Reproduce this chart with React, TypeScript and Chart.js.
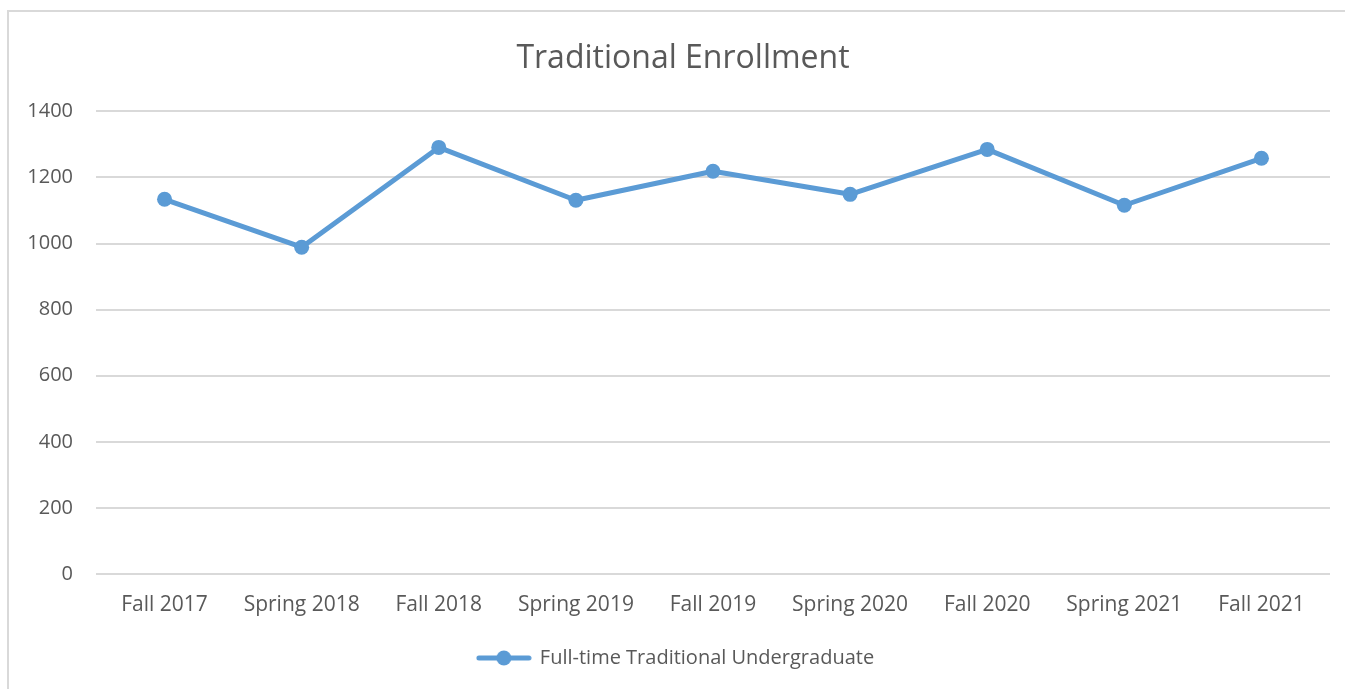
import React, { useEffect, useRef } from "react";
import { Chart, registerables } from "chart.js";

Chart.register(...registerables);

const categories = [
  "Fall 2017",
  "Spring 2018",
  "Fall 2018",
  "Spring 2019",
  "Fall 2019",
  "Spring 2020",
  "Fall 2020",
  "Spring 2021",
  "Fall 2021",
];
const seriesName = "Full-time Traditional Undergraduate";
const enrollment = [1134, 989, 1291, 1131, 1219, 1149, 1285, 1116, 1258];
const yTicks = [0, 200, 400, 600, 800, 1000, 1200, 1400];

const BLUE = "#5B9BD5";
const TEXT = "#595959";
const GRID = "#D9D9D9";
const FONT = "'Open Sans', 'Noto Sans', sans-serif";

function makeLegendMarker(): HTMLCanvasElement {
  const c = document.createElement("canvas");
  c.width = 56;
  c.height = 18;
  const ctx = c.getContext("2d")!;
  ctx.strokeStyle = BLUE;
  ctx.lineWidth = 5;
  ctx.lineCap = "round";
  ctx.beginPath();
  ctx.moveTo(3, 9);
  ctx.lineTo(53, 9);
  ctx.stroke();
  ctx.fillStyle = BLUE;
  ctx.beginPath();
  ctx.arc(28, 9, 7.5, 0, Math.PI * 2);
  ctx.fill();
  return c;
}

// Shift title and legend horizontally to match the original centring.
const centerShift = {
  id: "centerShift",
  afterLayout(chart: any) {
    const t = chart.titleBlock;
    if (t) {
      t.left += 36;
    }
    const l = chart.legend;
    if (l) {
      l.left += 11;
      l.right += 11;
    }
  },
};

export default function App() {
  const ref = useRef<HTMLCanvasElement | null>(null);

  useEffect(() => {
    if (!ref.current) return;
    const marker = makeLegendMarker();
    const chart = new Chart(ref.current, {
      type: "line",
      data: {
        labels: categories,
        datasets: [
          {
            label: seriesName,
            data: enrollment,
            borderColor: BLUE,
            backgroundColor: BLUE,
            borderWidth: 5,
            pointRadius: 7.5,
            pointHoverRadius: 7.5,
            pointBackgroundColor: BLUE,
            pointBorderWidth: 0,
            tension: 0,
            borderCapStyle: "round",
            borderJoinStyle: "round",
          },
        ],
      },
      plugins: [centerShift],
      options: {
        animation: false,
        responsive: false,
        maintainAspectRatio: false,
        layout: { padding: { left: 0, right: 15, top: 0, bottom: 11 } },
        plugins: {
          title: {
            display: true,
            text: "Traditional Enrollment",
            color: TEXT,
            font: { family: FONT, size: 32, weight: "normal" },
            padding: { top: 40, bottom: 33 },
          },
          legend: {
            display: true,
            position: "bottom",
            labels: {
              usePointStyle: true,
              pointStyle: marker,
              pointStyleWidth: 52,
              color: TEXT,
              font: { family: FONT, size: 20 },
              padding: 10,
            },
          },
          tooltip: { enabled: false },
        },
        scales: {
          x: {
            offset: true,
            afterFit: (scale: any) => {
              scale.height = 64;
            },
            grid: { display: false, drawTicks: false },
            border: { display: false },
            ticks: {
              color: TEXT,
              font: { family: FONT, size: 21 },
              padding: 18,
              maxRotation: 0,
              autoSkip: false,
            },
          },
          y: {
            min: 0,
            max: 1400,
            afterBuildTicks: (scale: any) => {
              scale.ticks = yTicks.map((v) => ({ value: v }));
            },
            afterFit: (scale: any) => {
              scale.width = 96;
            },
            grid: { color: GRID, lineWidth: 2, drawTicks: false },
            border: { display: false },
            ticks: {
              color: TEXT,
              font: { family: FONT, size: 20 },
              padding: 23,
              callback: (v: any) => String(v),
            },
          },
        },
      },
    });
    return () => chart.destroy();
  }, []);

  return (
    <div
      style={{
        position: "fixed",
        left: 0,
        top: 0,
        width: 1345,
        height: 689,
        background: "#fff",
        overflow: "hidden",
      }}
    >
      <div
        style={{
          position: "absolute",
          left: 7,
          top: 10,
          width: 1400,
          height: 800,
          borderLeft: "2px solid #D9D9D9",
          borderTop: "2px solid #D9D9D9",
        }}
      />
      <canvas
        ref={ref}
        width={1345}
        height={689}
        style={{ position: "absolute", left: 0, top: 0, width: 1345, height: 689 }}
      />
    </div>
  );
}
